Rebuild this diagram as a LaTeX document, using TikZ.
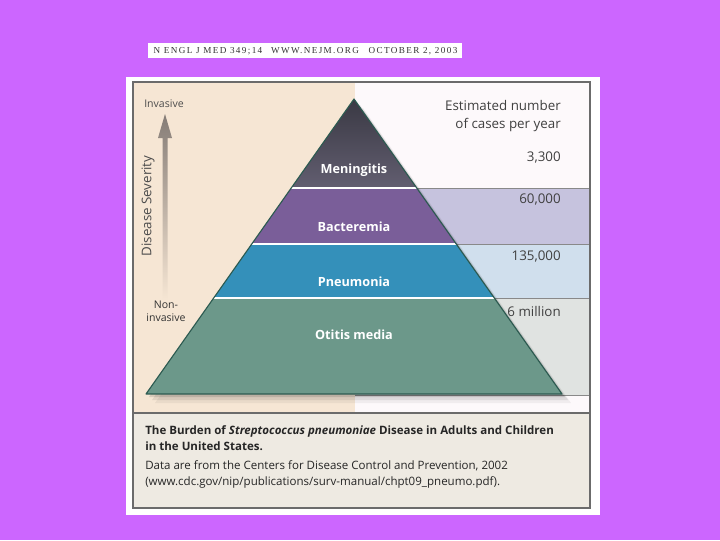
\documentclass[tikz,border=0pt]{standalone}
\usepackage{fontspec}
\setmainfont{Open Sans}
\newfontfamily\hdrfont[LetterSpace=15]{Liberation Serif}
\usetikzlibrary{positioning,calc}
\definecolor{bgpurple}{HTML}{CC66FF}
\definecolor{beige}{HTML}{F6E6D4}
\definecolor{pinkwhite}{HTML}{FDF9FB}
\definecolor{lav}{HTML}{C6C3DE}
\definecolor{ltblue}{HTML}{D0DFED}
\definecolor{ltgrey}{HTML}{E0E3E1}
\definecolor{capbg}{HTML}{EEEAE2}
\definecolor{frame}{HTML}{6B6B6B}
\definecolor{mentop}{HTML}{3A3944}
\definecolor{menbot}{HTML}{625E70}
\definecolor{bact}{HTML}{7A5E99}
\definecolor{pneu}{HTML}{3490BA}
\definecolor{otit}{HTML}{6C988A}
\definecolor{pyedge}{HTML}{2C5A50}
\definecolor{arrgrey}{HTML}{857C76}

\begin{document}
\begin{tikzpicture}[x=0.025cm,y=-0.025cm,
  every node/.style={font=\fontsize{8}{10}\selectfont,inner sep=0pt},
  hdr/.style={font=\hdrfont\fontsize{6.5}{8}\selectfont,text=black!80},
  lay/.style={font=\bfseries\fontsize{9}{10}\selectfont,text=white},
  num/.style={anchor=east,align=right,text=black!75,font=\fontsize{9.5}{12.8}\selectfont},
  side/.style={text=black!70,align=center,font=\fontsize{7.5}{9}\selectfont},
  bandline/.style={draw=frame!80,line width=0.7pt},
  frameline/.style={draw=frame,line width=1.2pt}]
% background and panel
\fill[bgpurple] (0,0) rectangle (720,540);
\fill[white] (148,43) rectangle (462,58);
\fill[white] (126,77) rectangle (600,515);
\fill[beige] (133,82) rectangle (355,413);
\fill[pinkwhite] (355,82) rectangle (590,413);
\fill[lav] (355,188) rectangle (590,244);
\fill[ltblue] (355,244) rectangle (590,298);
\fill[ltgrey] (355,298) rectangle (590,395);
\fill[capbg] (133,413) rectangle (590,508);
\draw[bandline] (355,188) -- (590,188);
\draw[bandline] (355,244) -- (590,244);
\draw[bandline] (355,298) -- (590,298);
\draw[bandline] (355,395) -- (590,395);
\draw[frameline] (133,413) -- (590,413);
\draw[frameline] (133,82) rectangle (590,508);

% header
\node[hdr] (jrnl) at (208,51) {N ENGL J MED 349;14};
\node[hdr] (web) at (315,51) {WWW.NEJM.ORG};
\node[hdr] (date) at (413,51) {OCTOBER 2, 2003};

% pyramid
\foreach \s/\o in {9/0.05,6/0.08,3/0.12}
  \fill[black,opacity=\o] (354+\s,99+\s) -- (562+\s,394+\s) -- (146+\s,394+\s) -- cycle;
\begin{scope}
\clip (354,99) -- (562,394) -- (146,394) -- cycle;
\shade[top color=mentop,bottom color=menbot] (140,99) rectangle (570,188);
\fill[bact] (140,188) rectangle (570,244);
\fill[pneu] (140,244) rectangle (570,298);
\fill[otit] (140,298) rectangle (570,394);
\draw[white,line width=0.8pt] (140,188) -- (570,188);
\draw[white,line width=0.8pt] (140,244) -- (570,244);
\draw[white,line width=0.8pt] (140,298) -- (570,298);
\end{scope}
\draw[pyedge,line width=0.8pt,line join=round] (354,99) -- (562,394) -- (146,394) -- cycle;

\node[lay] (men) at (354,170) {Meningitis};
\node[lay] (bac) at (354,227) {Bacteremia};
\node[lay] (pne) at (354,282) {Pneumonia};
\node[lay] (oti) at (354,335) {Otitis media};

% cases per year
\node[num] (est) at (561,116) {Estimated number\\of cases per year};
\node[num] (c1) at (561,158) {3,300};
\node[num] (c2) at (561,200) {60,000};
\node[num] (c3) at (561,257) {135,000};
\node[num] (c4) at (561,311) {6 million};

% severity axis
\node[side] (inv) at (164,104) {Invasive};
\node[side,text=black!80] (noninv) at (166,311) {Non-\\invasive};
\node[side,rotate=90,font=\fontsize{9.5}{11}\selectfont] (sev) at (148,206) {Disease Severity};
\coordinate (sevfoot) at (165,300);
\coordinate (sevtip) at (165,114);
\shade[top color=arrgrey,bottom color=beige]
  ($(sevfoot)+(-2.5,0)$) -- (162.5,138) -- (158,138) -- (sevtip) -- (172,138)
  -- (167.5,138) -- ($(sevfoot)+(2.5,0)$) -- cycle;

% caption
\node[anchor=north west,align=left,text=black!85,font=\fontsize{8.2}{11.4}\selectfont] (cap) at (145,425)
  {\bfseries The Burden of {\itshape Streptococcus pneumoniae} Disease in Adults and Children\\
   \bfseries in the United States.\\[2.5pt]
   Data are from the Centers for Disease Control and Prevention, 2002\\
   (www.cdc.gov/nip/publications/surv-manual/chpt09\_pneumo.pdf).};
\end{tikzpicture}
\end{document}
